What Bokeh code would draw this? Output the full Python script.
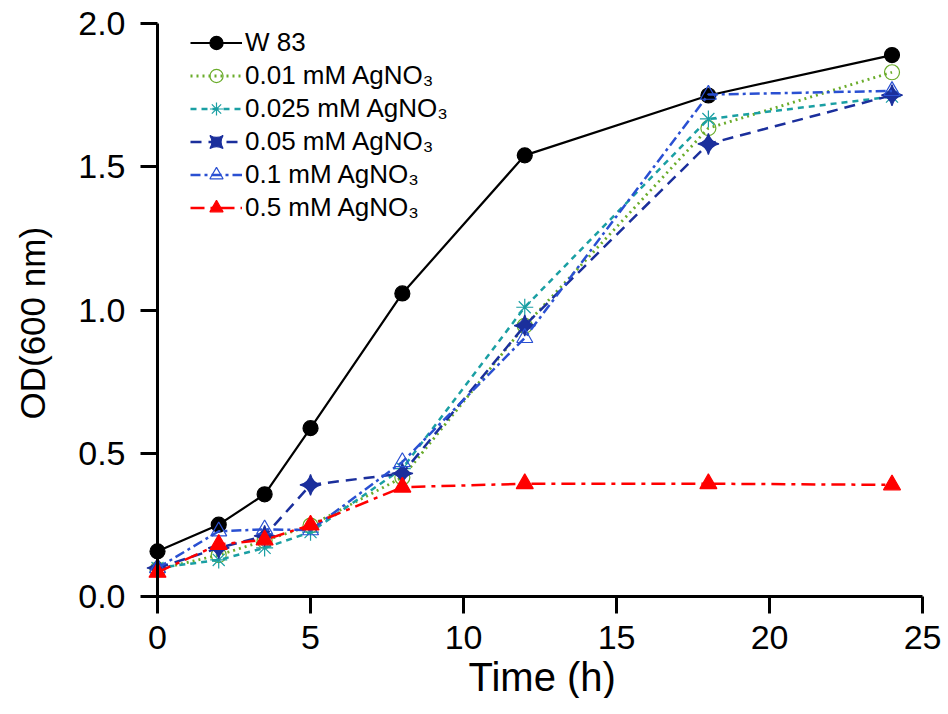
from bokeh.plotting import figure
from bokeh.models import (Legend, LegendItem, Range1d, FixedTicker,
                          NumeralTickFormatter, Title)
from bokeh.embed import file_html
from bokeh.resources import INLINE
import math

# ---- data ----
time_h = [0, 2, 3.5, 5, 8, 12, 18, 24]
w83 = [0.158, 0.251, 0.357, 0.588, 1.058, 1.540, 1.749, 1.890]
ag_001 = [0.095, 0.145, 0.195, 0.248, 0.416, 0.945, 1.635, 1.830]
ag_0025 = [0.100, 0.128, 0.170, 0.225, 0.447, 1.010, 1.667, 1.745]
ag_005 = [0.100, 0.170, 0.212, 0.390, 0.430, 0.946, 1.580, 1.750]
ag_01 = [0.100, 0.228, 0.235, 0.232, 0.470, 0.903, 1.752, 1.765]
ag_05 = [0.085, 0.182, 0.198, 0.250, 0.382, 0.394, 0.394, 0.390]

series_labels = ["W 83", "0.01 mM AgNO\u2083", "0.025 mM AgNO\u2083",
                 "0.05 mM AgNO\u2083", "0.1 mM AgNO\u2083", "0.5 mM AgNO\u2083"]
x_ticks = [0, 5, 10, 15, 20, 25]
y_ticks = [0.0, 0.5, 1.0, 1.5, 2.0]
x_title = "Time (h)"
y_title = "OD(600 nm)"

FONT = "Liberation Sans"
PX_X = 30.6   # pixels per hour
PX_Y = 286.5  # pixels per OD unit
X0, X1 = -3.17, 25.65
Y0, Y1 = -0.195, 2.07
FW = int(round((X1 - X0) * PX_X))
FH = int(round((Y1 - Y0) * PX_Y))
FT = 3
FL = 60

p = figure(frame_width=FW, frame_height=FH,
           x_range=Range1d(X0, X1), y_range=Range1d(Y0, Y1),
           output_backend="svg", toolbar_location=None,
           min_border_top=FT, min_border_right=2,
           min_border_left=FL, min_border_bottom=0)
p.outline_line_color = None
p.xgrid.visible = False
p.ygrid.visible = False
p.background_fill_color = "white"

p.yaxis.fixed_location = 0
p.xaxis.fixed_location = 0
p.yaxis.bounds = (0, 2)
p.xaxis.bounds = (0, 25)
p.xaxis.ticker = FixedTicker(ticks=x_ticks)
p.yaxis.ticker = FixedTicker(ticks=y_ticks)
p.yaxis.formatter = NumeralTickFormatter(format="0.0")
for ax in (p.xaxis, p.yaxis):
    ax.axis_line_width = 3
    ax.axis_line_color = "black"
    ax.major_tick_line_width = 3
    ax.major_tick_line_color = "black"
    ax.major_tick_out = 17
    ax.major_tick_in = 0
    ax.minor_tick_line_color = None
    ax.major_label_text_font = FONT
    ax.major_label_text_font_size = "34px"
    ax.major_label_text_color = "black"
p.xaxis.major_label_standoff = 12
p.yaxis.major_label_standoff = 15

xt = Title(text=x_title, align="left", text_font=FONT, text_font_size="40px",
           text_font_style="normal", text_color="black", standoff=0,
           offset=468 - FL)
p.add_layout(xt, "below")
yt = Title(text=y_title, align="left", text_font=FONT, text_font_size="35px",
           text_font_style="normal", text_color="black", standoff=17,
           offset=(FT + FH) - 419)
p.add_layout(yt, "left")

items = []

def add(ys, label, color, dash, marker, size, fill, lw=2.5, mlw=1.2, angle=0.0):
    r_line = p.line(time_h, ys, line_color=color, line_width=lw, line_dash=dash)
    r_mk = p.scatter(time_h, ys, marker=marker, size=size, line_color=color,
                     fill_color=fill, line_width=mlw, angle=angle)
    items.append(LegendItem(label=label, renderers=[r_line, r_mk]))

add(w83, series_labels[0], "black", "solid", "circle", 15, "black", lw=2.2)
add(ag_001, series_labels[1], "#6aac2a", "dotted", "circle", 15, None, lw=2.8)
add(ag_0025, series_labels[2], "#1a9fa3", "6 5", "asterisk", 17, None, lw=2.5)
add(ag_005, series_labels[3], "#1b2f9c", "11 7", "square_pin", 15, "#1b2f9c", lw=2.5, angle=math.pi / 4)
add(ag_01, series_labels[4], "#2a50d2", "10 4 3 4", "triangle", 16, None, lw=2.5)
add(ag_05, series_labels[5], "#ff0000", "14 6 4 6", "triangle", 17, "#ff0000", lw=2.5)

legend_top = 26
legend_h = 6 * 33
legend = Legend(items=items, location=(190 - FL, FT + FH - legend_top - legend_h),
                border_line_color=None, background_fill_alpha=0,
                padding=0, margin=0, spacing=0,
                glyph_width=52, glyph_height=33, label_height=33,
                label_standoff=3, label_text_font=FONT,
                label_text_font_size="26px", label_text_color="black")
p.add_layout(legend)

open("out.html", "w").write(file_html(p, INLINE))
